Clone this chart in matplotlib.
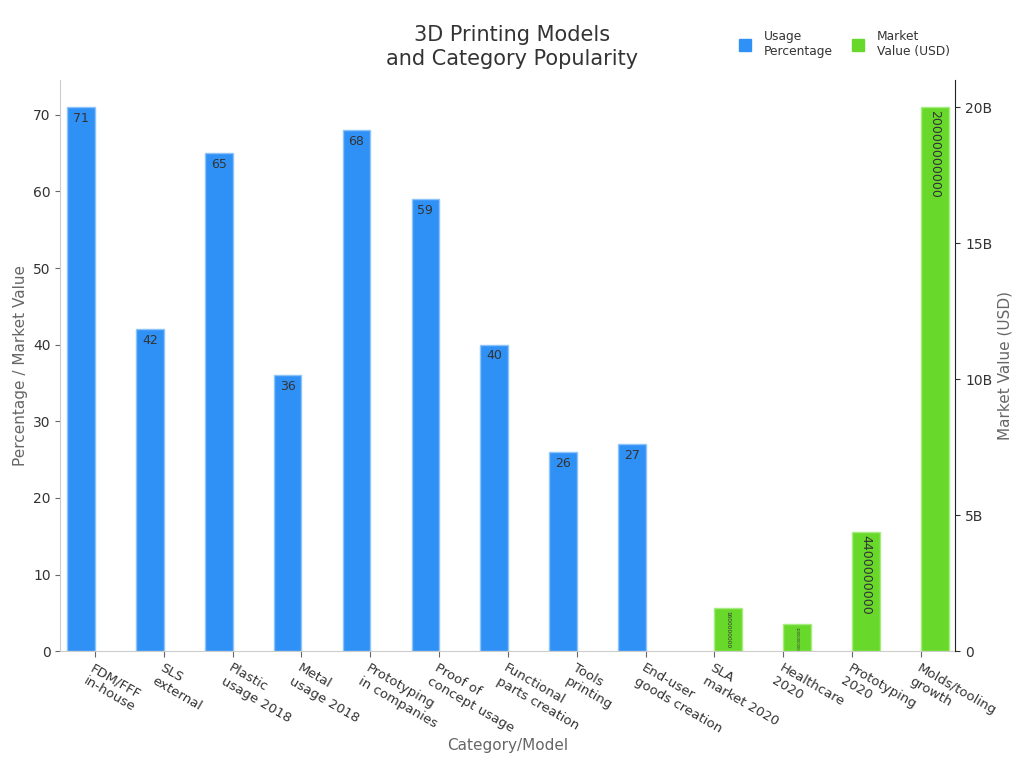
import matplotlib
matplotlib.use("Agg")
import matplotlib.pyplot as plt
from matplotlib.ticker import FuncFormatter, MultipleLocator
from matplotlib.lines import Line2D
import numpy as np

categories = ["FDM/FFF\nin-house", "SLS\nexternal", "Plastic\nusage 2018", "Metal\nusage 2018",
              "Prototyping\nin companies", "Proof of\nconcept usage", "Functional\nparts creation",
              "Tools\nprinting", "End-user\ngoods creation", "SLA\nmarket 2020", "Healthcare\n2020",
              "Prototyping\n2020", "Molds/tooling\ngrowth"]
usage_pct = [71, 42, 65, 36, 68, 59, 40, 26, 27, 0, 0, 0, 0]
market_usd = [0, 0, 0, 0, 0, 0, 0, 0, 0, 1600000000, 1000000000, 4400000000, 20000000000]
market_label_sizes = [4.2, 2.6, 9, 9]

blue = "#2F91F6"
green = "#68D92B"
txt = "#333333"
gray = "#666666"

fig = plt.figure(figsize=(10.24, 7.68), dpi=100)
ax = fig.add_axes([0.059, 0.152, 0.874, 0.744])
ax2 = ax.twinx()

x = np.arange(len(categories))
w = 0.4
e1 = ["#8CC4FA" if v > 0 else "none" for v in usage_pct]
e2 = ["#A6EC80" if v > 0 else "none" for v in market_usd]
bars1 = ax.bar(x, usage_pct, width=-w, align="edge", color=blue, edgecolor=e1, linewidth=1)
bars2 = ax2.bar(x, market_usd, width=w, align="edge", color=green, edgecolor=e2, linewidth=1)

for b, v in zip(bars1, usage_pct):
    if v > 0:
        ax.text(b.get_x() + b.get_width() / 2, v - 0.6, f"{v}", ha="center", va="top",
                fontsize=9, color=txt)

k = 0
for b, v in zip(bars2, market_usd):
    if v > 0:
        ax2.text(b.get_x() + b.get_width() / 2, v - 0.12e9, f"{v}", ha="center", va="top",
                 rotation=-90, fontsize=market_label_sizes[k], color=txt)
        k += 1

ax.set_xlim(-0.5, 12.5)
ax.set_ylim(0, 74.55)
ax2.set_ylim(0, 21e9)
ax.yaxis.set_major_locator(MultipleLocator(10))
ax2.yaxis.set_major_locator(MultipleLocator(5e9))
ax2.yaxis.set_major_formatter(FuncFormatter(lambda v, p: "0" if v == 0 else f"{v/1e9:.0f}B"))

ax.set_xticks(x)
ax.set_xticklabels(categories, rotation=-30, ha="left", rotation_mode="anchor", fontsize=9.5, color=txt)
ax.tick_params(axis="x", colors=gray, labelcolor=txt, length=4)
ax.tick_params(axis="y", colors=gray, labelcolor=txt, labelsize=10)
ax2.tick_params(axis="y", colors=txt, labelcolor=txt, labelsize=10)

for s in ["top", "right"]:
    ax.spines[s].set_visible(False)
ax2.spines["top"].set_visible(False)
ax2.spines["left"].set_visible(False)
ax2.spines["bottom"].set_visible(False)
ax.spines["left"].set_color("#CCCCCC")
ax.spines["bottom"].set_color("#CCCCCC")
ax2.spines["right"].set_color("#222222")

ax.set_xlabel("Category/Model", fontsize=11, color=gray, labelpad=2)
ax.set_ylabel("Percentage / Market Value", fontsize=11, color=gray)
ax2.set_ylabel("Market Value (USD)", fontsize=11, color=gray)

fig.suptitle("3D Printing Models\nand Category Popularity", fontsize=15, color=txt, y=0.968, x=0.5,
             linespacing=1.3)

handles = [Line2D([], [], marker="s", linestyle="none", markersize=9, color=blue),
           Line2D([], [], marker="s", linestyle="none", markersize=9, color=green)]
fig.legend(handles, ["Usage\nPercentage", "Market\nValue (USD)"], loc="upper right",
           bbox_to_anchor=(0.938, 0.975), ncol=2, frameon=False, fontsize=8.8,
           handletextpad=0.5, columnspacing=1.1, labelcolor=txt)

fig.savefig("out.png", dpi=100)
